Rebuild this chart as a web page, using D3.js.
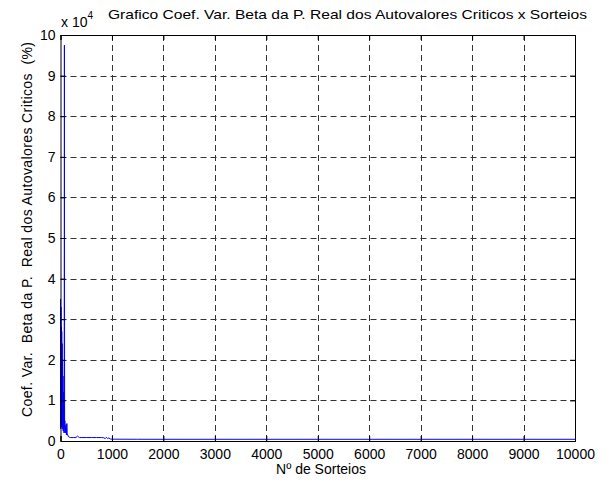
<!DOCTYPE html>
<html><head><meta charset="utf-8">
<script src="https://cdn.jsdelivr.net/npm/d3@7"></script>
<style>body{margin:0;background:#fff}svg{display:block}text{font-family:"Liberation Sans",Arial,sans-serif;fill:#000}</style>
</head><body>
<script>
const titleText = "Grafico Coef. Var. Beta da P. Real dos Autovalores Criticos x Sorteios";
const xLabel = "Nº de Sorteios";
const yLabel = "Coef. Var.  Beta da P.  Real dos Autovalores Criticos  (%)";
const xTicks = [0,1000,2000,3000,4000,5000,6000,7000,8000,9000,10000];
const yTicks = [0,1,2,3,4,5,6,7,8,9,10];
const yExponentLabel = "x 10";
const yExponent = "4";
const sorteios = [1,4,8,12,16,20,24,28,32,36,40,44,48,52,56,60,64,68,72,76,80,84,88,92,96,100,105,110,115,120,125,130,135,140,150,160,180,200,250,300,330,350,370,400,500,600,700,800,840,870,890,910,940,970,1000,1500,2000,3000,4000,5000,6000,7000,8000,9000,10000];
const coefVar = [35000,3000,33000,4000,28000,3500,27000,5000,24000,3000,20000,4000,16000,2500,12000,3000,8000,2000,6000,97500,3000,5000,2000,4000,2500,3500,2000,3000,1500,4200,4300,2000,1800,1500,1200,1000,900,850,850,850,1200,1000,850,850,850,850,850,850,800,600,900,650,750,500,450,430,420,420,420,420,420,420,420,420,420];

const W=610,H=486;
const m={l:60.5,r:575,t:35,b:441};
const svg=d3.select("body").append("svg").attr("width",W).attr("height",H);
const x=d3.scaleLinear().domain([0,10000]).range([m.l,m.r]);
const y=d3.scaleLinear().domain([0,10]).range([m.b,m.t]);

// grid
const g=svg.append("g");
g.selectAll(".gx").data(xTicks.slice(1,-1)).join("line")
 .attr("x1",d=>Math.round(x(d))+0.5).attr("x2",d=>Math.round(x(d))+0.5).attr("y1",m.t).attr("y2",m.b)
 .attr("stroke","#333").attr("stroke-dasharray","6,4");
g.selectAll(".gy").data(yTicks.slice(1,-1)).join("line")
 .attr("y1",d=>Math.round(y(d))+0.5).attr("y2",d=>Math.round(y(d))+0.5).attr("x1",m.l).attr("x2",m.r)
 .attr("stroke","#333").attr("stroke-dasharray","6,4");

// data
const line=d3.line().x((d,i)=>x(sorteios[i])).y((d,i)=>y(coefVar[i]/1e4));
svg.append("path").datum(coefVar).attr("d",line).attr("fill","none").attr("stroke","#0000ff").attr("stroke-width",1);

// axes
const tl=5;
const xb=d3.axisBottom(x).tickValues(xTicks).tickSize(-tl).tickFormat(d3.format("d"));
const xt=d3.axisTop(x).tickValues(xTicks).tickSize(-tl).tickFormat("");
const yl=d3.axisLeft(y).tickValues(yTicks).tickSize(-tl).tickFormat(d3.format("d"));
const yr=d3.axisRight(y).tickValues(yTicks).tickSize(-tl).tickFormat("");
function style(sel){sel.select(".domain").attr("stroke","#000");sel.selectAll(".tick line").attr("stroke","#000");sel.selectAll("text").attr("font-size",14).attr("font-family","Liberation Sans, Arial, sans-serif").attr("fill","#000");}
svg.append("g").attr("transform",`translate(0,${m.b})`).call(xb).call(style).selectAll("text").attr("dy","1.05em");
svg.append("g").attr("transform",`translate(0,${m.t})`).call(xt).call(style);
svg.append("g").attr("transform",`translate(${m.l},0)`).call(yl).call(style).selectAll("text").attr("x",-5);
svg.append("g").attr("transform",`translate(${m.r},0)`).call(yr).call(style);
svg.selectAll(".domain").attr("stroke-width",1);

// exponent
const ex=svg.append("text").attr("x",61).attr("y",27).attr("font-size",14).text(yExponentLabel);
ex.append("tspan").attr("dy",-8).attr("font-size",10).text(yExponent);

// title
svg.append("text").attr("x",108).attr("y",19).attr("font-size",13).attr("textLength",479).attr("lengthAdjust","spacingAndGlyphs").text(titleText);
// x label
svg.append("text").attr("x",321).attr("y",474).attr("text-anchor","middle").attr("font-size",14).text(xLabel);
// y label
svg.append("text").attr("transform","translate(32,229.5) rotate(-90)").attr("text-anchor","middle").attr("font-size",14)
  .attr("textLength",375).attr("lengthAdjust","spacing").style("white-space","pre").text(yLabel);
</script>
</body></html>
